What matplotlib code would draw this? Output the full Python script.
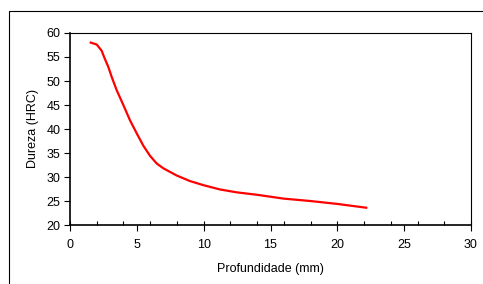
import matplotlib
matplotlib.use("Agg")
import matplotlib.pyplot as plt
from matplotlib.lines import Line2D
from matplotlib.ticker import MultipleLocator

# depth (mm) and hardness (HRC)
profundidade = [1.55, 2.0, 2.37, 2.55, 2.87, 3.12, 3.49, 3.99, 4.49, 4.99, 5.49,
                5.99, 6.49, 6.99, 7.99, 8.98, 9.98, 11.23, 12.48, 13.98, 15.97,
                17.97, 19.97, 22.16]
dureza = [58.0, 57.6, 56.3, 55.0, 52.9, 50.85, 48.1, 45.0, 41.8, 39.1, 36.5,
          34.4, 32.8, 31.8, 30.3, 29.15, 28.3, 27.4, 26.8, 26.3, 25.5,
          25.0, 24.4, 23.6]

plt.rcParams["font.family"] = ["Liberation Sans", "DejaVu Sans"]
plt.rcParams["font.size"] = 9

W, H = 483, 284
fig = plt.figure(figsize=(W / 100, H / 100), dpi=100)
ax = fig.add_axes([70 / W, 1 - 225 / H, (471 - 70) / W, (225 - 33) / H])

ax.plot(profundidade, dureza, color="#ff0000", lw=1.6)

ax.set_xlim(0, 30)
ax.set_ylim(20, 60)
ax.xaxis.set_major_locator(MultipleLocator(5))
ax.xaxis.set_minor_locator(MultipleLocator(2))
ax.xaxis.remove_overlapping_locs = False
ax.yaxis.set_major_locator(MultipleLocator(5))
ax.tick_params(axis="x", which="major", direction="out", length=4, width=0.8, pad=6)
ax.tick_params(axis="x", which="minor", direction="in", length=3, width=0.8)
ax.tick_params(axis="y", direction="out", length=4, width=0.8, pad=3)
for s in ax.spines.values():
    s.set_linewidth(0.8)
ax.spines["left"].set_linewidth(1.2)
ax.spines["bottom"].set_linewidth(1.2)

ax.set_xlabel("Profundidade (mm)", labelpad=9)
ax.set_ylabel("Dureza (HRC)", labelpad=5)

# outer frame of the chart area (runs off the right and bottom edges)
x0, y0 = 8.5 / W, 1 - 10.5 / H
fig.add_artist(Line2D([x0, x0, 1.01], [-0.01, y0, y0], color="black", lw=0.8,
                      transform=fig.transFigure))

fig.savefig("out.png", dpi=100)
